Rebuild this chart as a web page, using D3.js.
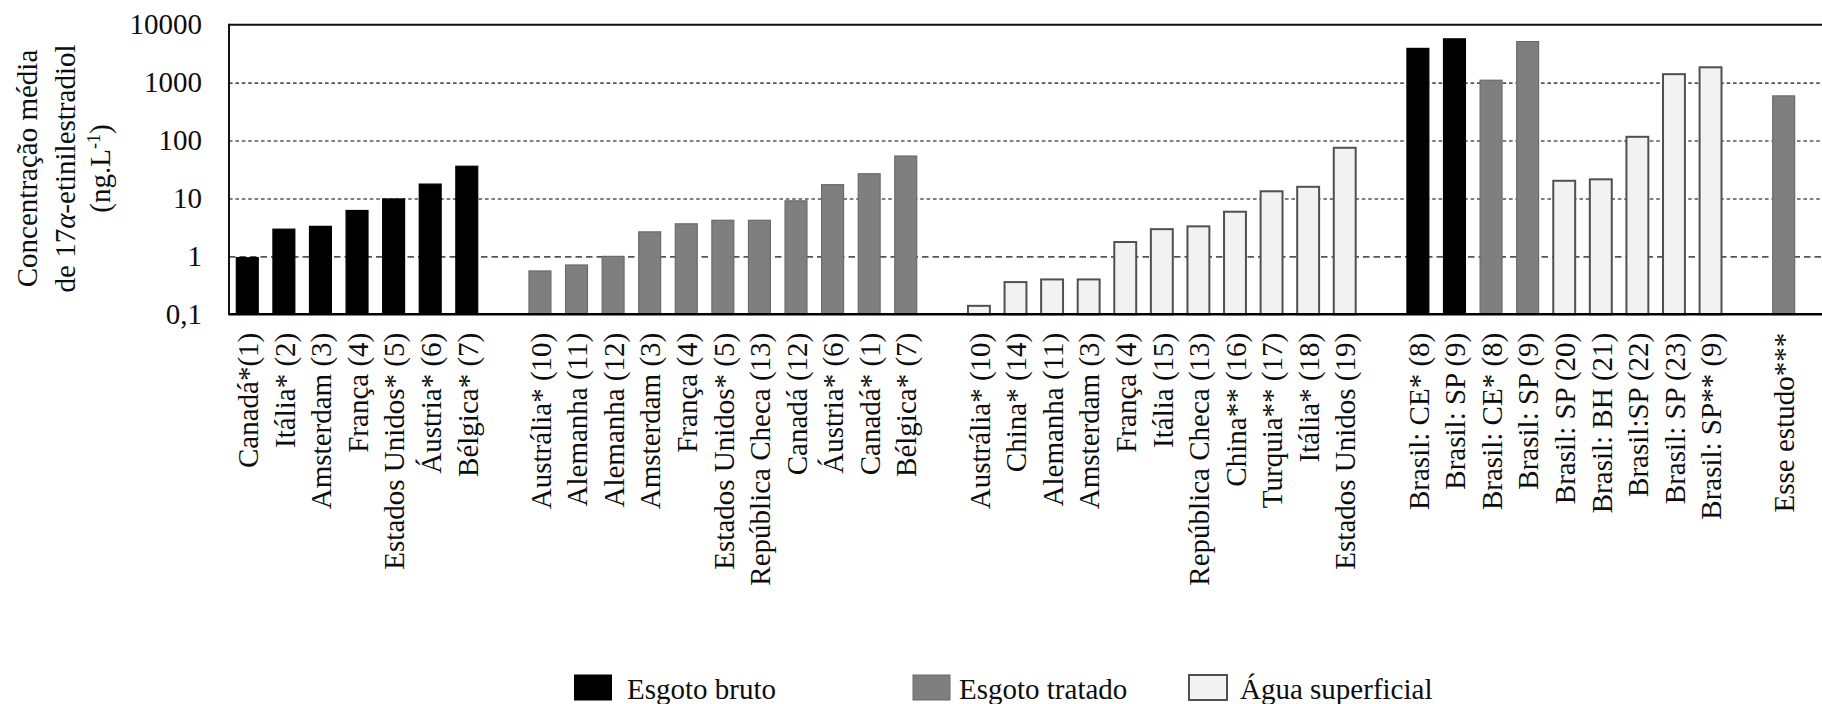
<!DOCTYPE html>
<html>
<head>
<meta charset="utf-8">
<script src="https://cdn.jsdelivr.net/npm/d3@7"></script>
<style>
  html, body { margin: 0; padding: 0; background: #fff; }
  svg { display: block; }
  text { font-family: "Liberation Serif", "Times New Roman", serif; fill: #0d0d0d; }
</style>
</head>
<body>
<svg id="chart" width="1822" height="704"></svg>
<script>
// ---- data ----
const seriesNames = ["Esgoto bruto", "Esgoto tratado", "Água superficial"];
const seriesColors = ["#000000", "#7f7f7f", "#f2f2f2"];
const seriesStrokes = ["#000000", "#6a6a6a", "#505050"];

const labels = [
  "Canadá*(1)", "Itália* (2)", "Amsterdam (3)", "França (4)", "Estados Unidos* (5)", "Áustria* (6)", "Bélgica* (7)",
  "Austrália* (10)", "Alemanha (11)", "Alemanha (12)", "Amsterdam (3)", "França (4)", "Estados Unidos* (5)",
  "República Checa (13)", "Canadá (12)", "Áustria* (6)", "Canadá* (1)", "Bélgica* (7)",
  "Austrália* (10)", "China* (14)", "Alemanha (11)", "Amsterdam (3)", "França (4)", "Itália (15)",
  "República Checa (13)", "China** (16)", "Turquia** (17)", "Itália* (18)", "Estados Unidos (19)",
  "Brasil: CE* (8)", "Brasil: SP (9)", "Brasil: CE* (8)", "Brasil: SP (9)", "Brasil: SP (20)",
  "Brasil: BH (21)", "Brasil:SP (22)", "Brasil: SP (23)", "Brasil: SP** (9)",
  "Esse estudo***"
];
const values = [
  0.95, 2.95, 3.3, 6.2, 9.8, 17.7, 36,
  0.56, 0.71, 1.0, 2.65, 3.65, 4.2, 4.2, 9.1, 17.3, 26.7, 54,
  0.14, 0.36, 0.40, 0.40, 1.77, 2.95, 3.3, 5.9, 13.3, 15.9, 75,
  3900, 5700, 1100, 5100, 20.2, 21.4, 116, 1400, 1840,
  590
];
const barSeries = [
  0, 0, 0, 0, 0, 0, 0,
  1, 1, 1, 1, 1, 1, 1, 1, 1, 1, 1,
  2, 2, 2, 2, 2, 2, 2, 2, 2, 2, 2,
  0, 0, 1, 1, 2, 2, 2, 2, 2,
  1
];
const gapAfter = [6, 17, 28, 37];
const tickValues = [0.1, 1, 10, 100, 1000, 10000];
const tickLabels = ["0,1", "1", "10", "100", "1000", "10000"];
const gridValues = [1, 10, 100, 1000];

// ---- build slots (bars + empty gap slots) ----
const slots = [];
labels.forEach((lab, i) => {
  slots.push({ id: "b" + i, label: lab, value: values[i], s: barSeries[i] });
  if (gapAfter.includes(i)) slots.push({ id: "g" + i, label: "", value: null, s: null });
});

// ---- layout ----
const svg = d3.select("#chart");
const W = 1822;
const plotLeft = 229, plotTop = 24.7, plotBottom = 314.3, plotRight = 1802;

const x = d3.scaleBand()
  .domain(slots.map(d => d.id))
  .range([plotLeft, plotRight])
  .paddingInner(0.36)
  .paddingOuter(0.18);

const y = d3.scaleLog().domain([0.1, 10000]).range([plotBottom, plotTop]);

const fontSize = 29;

// grid lines
const grid = svg.append("g")
  .attr("transform", `translate(${plotLeft},0)`)
  .call(d3.axisLeft(y).tickValues(gridValues).tickSize(-(W - plotLeft)).tickFormat(""));
grid.select(".domain").remove();
grid.selectAll(".tick line")
  .attr("stroke", "#555")
  .attr("stroke-width", 1.6)
  .attr("stroke-dasharray", d => d === 1 ? "6.5,4" : "3.6,2.8");

// bars
svg.append("g").selectAll("rect")
  .data(slots.filter(d => d.value !== null))
  .join("rect")
  .attr("x", d => x(d.id) + 0.75)
  .attr("width", x.bandwidth() - 1.5)
  .attr("y", d => y(d.value))
  .attr("height", d => plotBottom - y(d.value))
  .attr("fill", d => seriesColors[d.s])
  .attr("stroke", d => seriesStrokes[d.s])
  .attr("stroke-width", d => d.s === 2 ? 2 : 1.2);

// frame: top line, left line
svg.append("line").attr("x1", plotLeft).attr("x2", W).attr("y1", plotTop).attr("y2", plotTop)
  .attr("stroke", "#111").attr("stroke-width", 2);
svg.append("line").attr("x1", plotLeft).attr("x2", plotLeft).attr("y1", plotTop - 1).attr("y2", plotBottom + 1)
  .attr("stroke", "#111").attr("stroke-width", 2);

// x axis
const xAxis = svg.append("g")
  .attr("transform", `translate(0,${plotBottom})`)
  .call(d3.axisBottom(x).tickSize(0).tickFormat(id => slots.find(s => s.id === id).label));
xAxis.select(".domain").remove();
svg.append("line").attr("x1", plotLeft).attr("x2", W).attr("y1", plotBottom).attr("y2", plotBottom)
  .attr("stroke", "#000").attr("stroke-width", 2.6);
xAxis.selectAll(".tick text")
  .attr("transform", "rotate(-90)")
  .attr("x", -18.5)
  .attr("y", 0)
  .attr("dy", "0.37em")
  .attr("text-anchor", "end")
  .style("font-family", '"Liberation Serif", "Times New Roman", serif')
  .style("font-size", fontSize + "px")
  .attr("fill", "#0d0d0d");

// y axis labels
const yAxis = svg.append("g")
  .attr("transform", `translate(${plotLeft},0)`)
  .call(d3.axisLeft(y).tickValues(tickValues).tickSize(0).tickPadding(27)
    .tickFormat((d, i) => tickLabels[i]));
yAxis.select(".domain").remove();
yAxis.selectAll(".tick text")
  .style("font-family", '"Liberation Serif", "Times New Roman", serif')
  .style("font-size", fontSize + "px")
  .attr("fill", "#0d0d0d");

// y axis title
const cy = 168.5;
const title = svg.append("g").attr("transform", `translate(0,${cy}) rotate(-90)`)
  .style("font-size", fontSize + "px");
title.append("text").attr("x", 0).attr("y", 37).attr("text-anchor", "middle")
  .text("Concentração média");
const t2 = title.append("text").attr("x", 0).attr("y", 75).attr("text-anchor", "middle");
t2.append("tspan").text("de 17");
t2.append("tspan").style("font-style", "italic").text("α");
t2.append("tspan").text("-etinilestradiol");
const t3 = title.append("text").attr("x", 0).attr("y", 110).attr("text-anchor", "middle");
t3.append("tspan").text("(ng.L");
t3.append("tspan").attr("baseline-shift", "super").style("font-size", "18px").text("-1");
t3.append("tspan").text(")");

// legend
const legendX = [574.5, 913, 1189];
const legendTextX = [627, 959, 1240];
const lg = svg.append("g");
seriesNames.forEach((name, i) => {
  lg.append("rect")
    .attr("x", legendX[i]).attr("y", 675)
    .attr("width", i === 2 ? 38 : 37).attr("height", 25)
    .attr("fill", seriesColors[i])
    .attr("stroke", seriesStrokes[i])
    .attr("stroke-width", i === 2 ? 2 : 1);
  lg.append("text")
    .attr("x", legendTextX[i]).attr("y", 699)
    .style("font-size", fontSize + "px")
    .text(name);
});
</script>
</body>
</html>
